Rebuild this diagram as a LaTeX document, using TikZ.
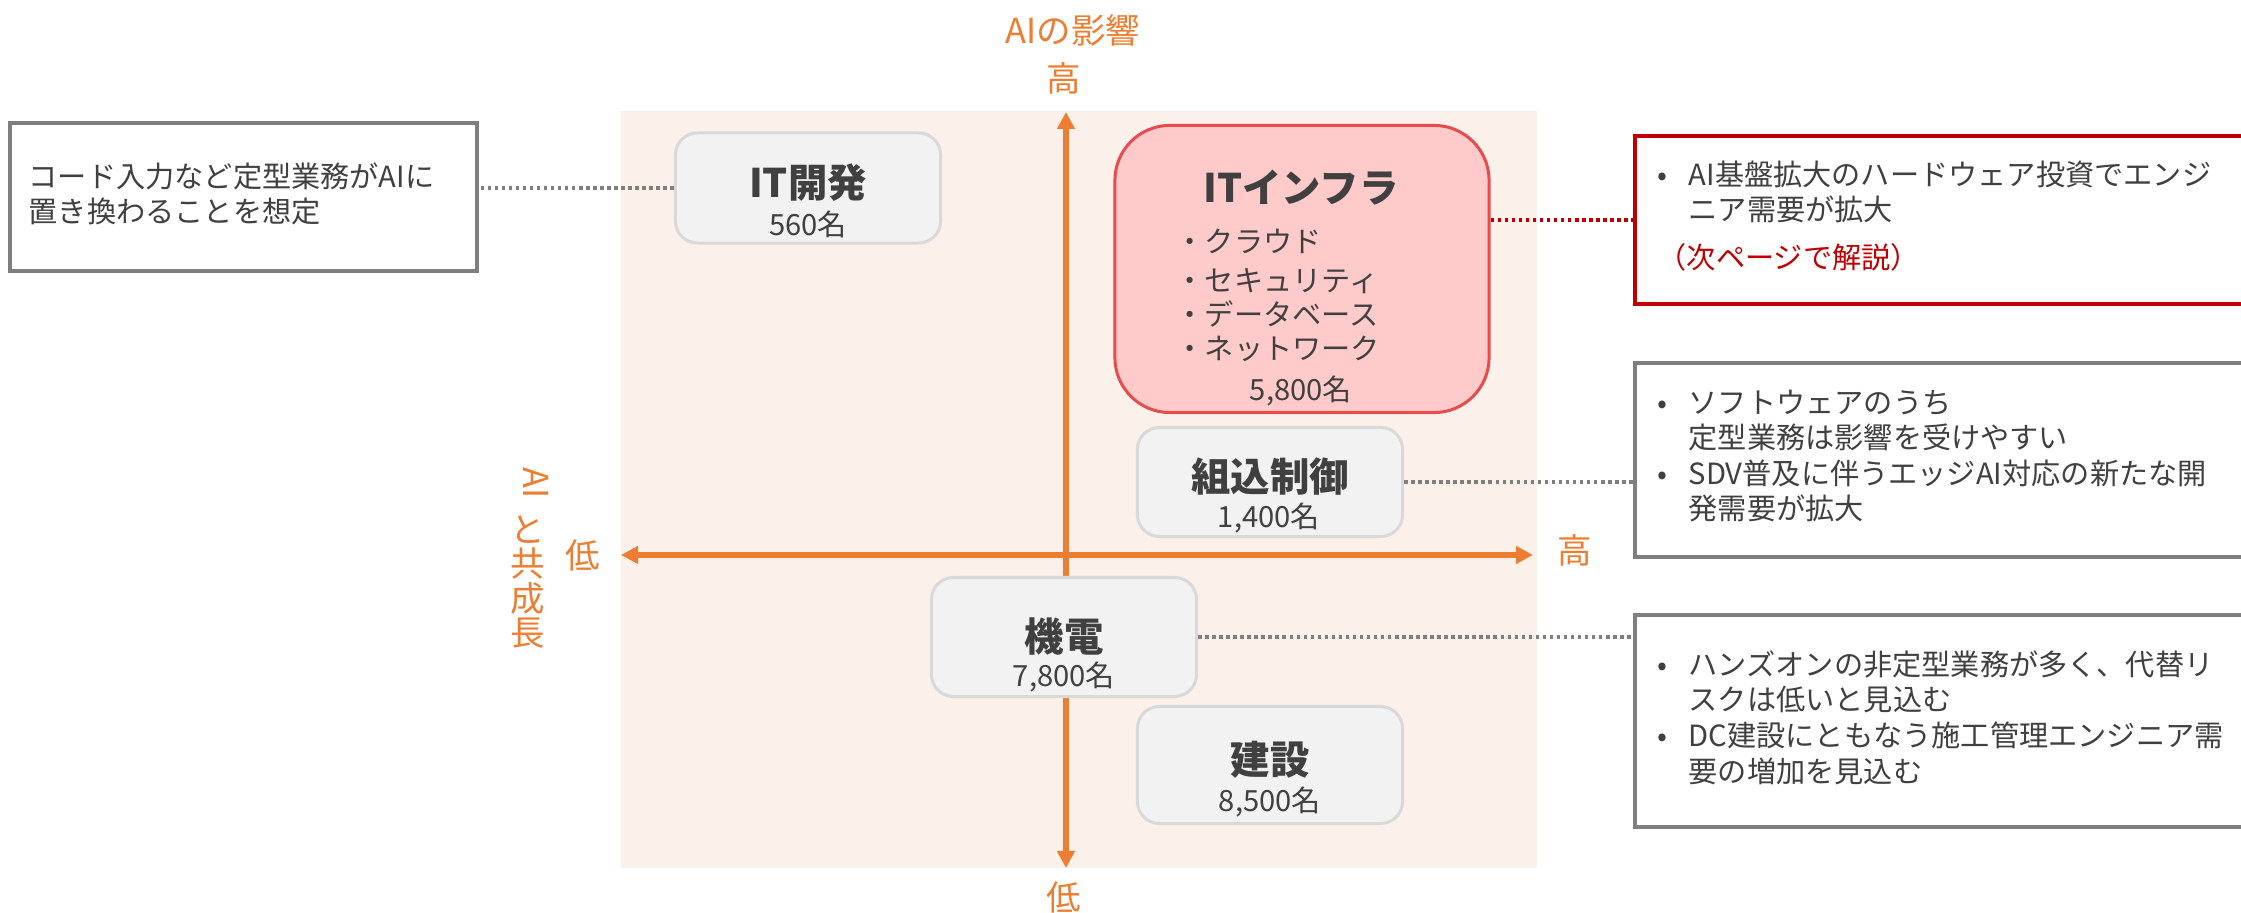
\documentclass[tikz,border=0pt]{standalone}
\usepackage{fontspec}
\setmainfont{Noto Sans CJK JP}
\usetikzlibrary{arrows.meta}
\definecolor{axisorange}{HTML}{ED7D31}
\definecolor{quadbg}{HTML}{FBF0EA}
\definecolor{boxfill}{HTML}{F2F2F2}
\definecolor{boxline}{HTML}{D9D9D9}
\definecolor{infrafill}{HTML}{FFCACA}
\definecolor{infraline}{HTML}{E84B4B}
\definecolor{notegray}{HTML}{7F7F7F}
\definecolor{notered}{HTML}{C00000}
\definecolor{textgray}{HTML}{404040}
\newcommand{\bodysize}{\fontsize{8.3pt}{10.1pt}\selectfont}
\newcommand{\titlesize}{\fontsize{11.2pt}{13pt}\selectfont\bfseries}
\newcommand{\axissize}{\fontsize{9.8pt}{9.8pt}\selectfont}
\newcommand{\bul}{\makebox[0.31cm][l]{•}}
\newcommand{\hang}{\hspace*{0.31cm}}
\tikzset{
  catbox/.style={draw=boxline,line width=0.85pt,fill=boxfill,rounded corners=0.22cm,minimum width=2.65cm},
  cattitle/.style={text=textgray,font=\titlesize,inner sep=0pt},
  catcount/.style={text=textgray,font=\bodysize,inner sep=0pt},
  notebox/.style={draw=notegray,line width=1pt,fill=white,anchor=north west,inner sep=0pt},
  notetext/.style={text=textgray,font=\bodysize,align=left,anchor=north west,inner sep=0pt,text width=5.9cm},
  axislabel/.style={text=axisorange,font=\axissize,inner sep=0pt},
  axis/.style={draw=axisorange,line width=1.55pt,{Triangle[length=0.17cm,width=0.17cm]}-{Triangle[length=0.17cm,width=0.17cm]}},
  leader/.style={draw=notegray,line width=1pt,dash pattern=on 1pt off 1pt},
}
\begin{document}
\begin{tikzpicture}[x=0.01cm,y=-0.01cm]
\path[use as bounding box,clip] (0,0) rectangle (2241,913);
% quadrant background and axes
\fill[quadbg] (621,111) rectangle (1537,868);
\coordinate (ytop) at (1066,112);
\coordinate (ybot) at (1066,868);
\coordinate (xlow) at (621,555);
\coordinate (xhigh) at (1533,555);
\draw[axis] (ybot) -- (ytop);
\draw[axis] (xlow) -- (xhigh);
\node[axislabel] (ytitle) at (1073,30) {AIの影響};
\node[axislabel] (yhightext) at (1064,78) {高};
\node[axislabel] (ylowtext) at (1064,897) {低};
\node[axislabel] (xlowtext) at (583,555) {低};
\node[axislabel] (xhightext) at (1575,550) {高};
\node[axislabel,rotate=-90] (xtitleai) at (536,483) {AI};
\node[axislabel,align=center] (xtitle) at (528,582) {と\\共\\成\\長};
% categories
\node[catbox,minimum height=1.10cm] (itdev) at (808,188) {};
\node[cattitle] (itdevtitle) at (808,183) {IT開発};
\node[catcount] (itdevcount) at (808,224) {560名};
\node[catbox,draw=infraline,fill=infrafill,rounded corners=0.55cm,minimum width=3.74cm,minimum height=2.87cm] (infra) at (1302,269) {};
\node[cattitle] (infratitle) at (1301,188) {ITインフラ};
\node[catcount,align=left,anchor=north west,font=\fontsize{8.3pt}{9.7pt}\selectfont] (infralist) at (1175,228) {・クラウド\\[1.4pt]・セキュリティ\\・データベース\\・ネットワーク};
\node[catcount] (infracount) at (1301,391) {5,800名};
\node[catbox,minimum height=1.09cm] (embed) at (1270,482) {};
\node[cattitle] (embedtitle) at (1270,477) {組込制御};
\node[catcount] (embedcount) at (1269,518) {1,400名};
\node[catbox,minimum height=1.19cm] (kiden) at (1064,637) {};
\node[cattitle] (kidentitle) at (1064,637) {機電};
\node[catcount] (kidencount) at (1064,677) {7,800名};
\node[catbox,minimum height=1.17cm] (kensetsu) at (1270,765) {};
\node[cattitle] (kensetsutitle) at (1270,760) {建設};
\node[catcount] (kensetsucount) at (1270,802) {8,500名};
% notes
\node[notebox,minimum width=4.67cm,minimum height=1.48cm] (devnote) at (8,121) {};
\node[notetext] (devnotetext) at (28,162) {コード入力など定型業務がAIに\\置き換わることを想定};
\node[notebox,draw=notered,line width=1.1pt,minimum width=6.3cm,minimum height=1.68cm] (infranote) at (1633,134) {};
\node[notetext] (infranotetext) at (1657,160) {\bul AI基盤拡大のハードウェア投資でエンジ\\\hang ニア需要が拡大\\[3.6pt]{\color{notered}（次ページで解説）}};
\node[notebox,minimum width=6.3cm,minimum height=1.94cm] (embednote) at (1633,361) {};
\node[notetext] (embednotetext) at (1657,389) {\bul ソフトウェアのうち\\\hang 定型業務は影響を受けやすい\\\bul SDV普及に伴うエッジAI対応の新たな開\\\hang 発需要が拡大};
\node[notebox,minimum width=6.3cm,minimum height=2.12cm] (kidennote) at (1633,613) {};
\node[notetext] (kidennotetext) at (1657,650) {\bul ハンズオンの非定型業務が多く、代替リ\\\hang スクは低いと見込む\\\bul DC建設にともなう施工管理エンジニア需\\\hang 要の増加を見込む};
% leaders
\draw[leader] (itdev.west) -- (itdev.west -| devnote.east);
\draw[leader,draw=notered] (infranote.west -| infra.east) -- (infranote.west);
\draw[leader] (embed.east) -- (embed.east -| embednote.west);
\draw[leader] (kiden.east) -- (kiden.east -| kidennote.west);
\end{tikzpicture}
\end{document}
